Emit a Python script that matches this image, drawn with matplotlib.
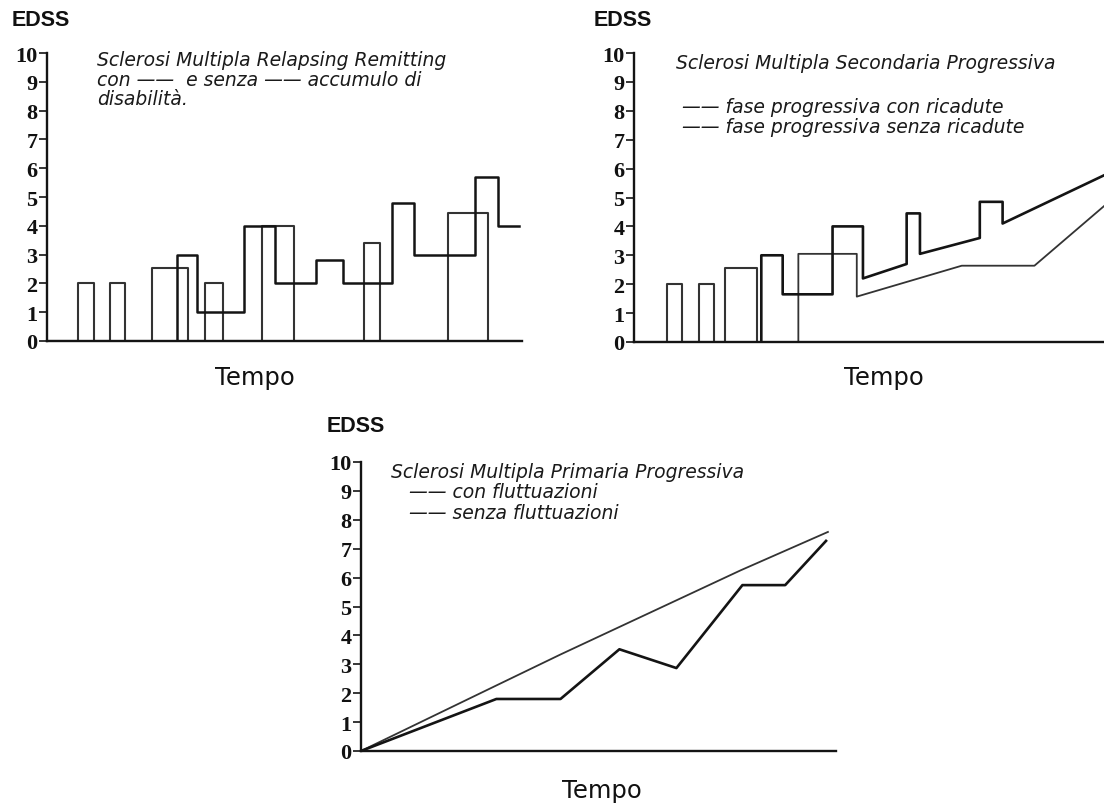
import matplotlib
matplotlib.use("Agg")
import matplotlib.pyplot as plt

W, H = 1104, 804

# ---------------- data ----------------
yticks = list(range(0, 11))
ytick_labels = [str(v) for v in yticks]

# Panel 1: Relapsing Remitting
p1_con_t = [0, 27.3, 31.6, 41.5, 47.9, 56.6, 62.4, 72.7, 77.3, 90.1, 95.0, 99.3]
p1_con_v = [0, 3.0, 1.0, 4.0, 2.0, 2.8, 2.0, 4.8, 3.0, 5.7, 4.0, 4.0]
p1_senza_t = [0, 6.5, 9.9, 13.3, 16.5, 22.0, 29.6, 33.3, 37.0, 45.2, 52.1, 66.8, 70.2, 84.5, 92.9, 99.3]
p1_senza_v = [0, 2.0, 0, 2.0, 0, 2.55, 0, 2.0, 0, 4.0, 0, 3.4, 0, 4.45, 0, 0]

# Panel 2: Secondaria Progressiva
p2_bars_t = [0, 6.9, 10.2, 13.7, 16.9, 19.2, 25.8]
p2_bars_v = [0, 2.0, 0, 2.0, 0, 2.55, 0]
p2_con_t = [26.8, 26.8, 31.3, 31.3, 41.8, 41.8, 48.2, 48.2, 57.4, 57.4, 60.2, 60.2, 72.8, 72.8, 77.6, 77.6, 100]
p2_con_v = [0, 3.0, 3.0, 1.65, 1.65, 4.0, 4.0, 2.2, 2.7, 4.45, 4.45, 3.05, 3.6, 4.85, 4.85, 4.1, 5.85]
p2_senza_t = [34.6, 34.6, 46.9, 46.9, 69.0, 84.3, 100]
p2_senza_v = [0, 3.05, 3.05, 1.57, 2.64, 2.64, 4.85]

# Panel 3: Primaria Progressiva
p3_con_t = [0, 28.5, 42.0, 54.4, 66.4, 80.3, 89.3, 97.9]
p3_con_v = [0, 1.8, 1.8, 3.52, 2.87, 5.74, 5.74, 7.27]
p3_senza_t = [0, 28.9, 42.0, 79.9, 98.3]
p3_senza_v = [0, 2.3, 3.34, 6.25, 7.58]

# ---------------- styling ----------------
DARK = "#141414"
GREY = "#333333"
ITAL = dict(family="DejaVu Sans", style="oblique", color="#1a1a1a")

fig = plt.figure(figsize=(W / 100, H / 100), dpi=100)


def fx(x):
    return x / W


def fy(y):
    return 1 - y / H


def make_axes(left, right, y0, y10):
    ax = fig.add_axes([fx(left), fy(y0), (right - left) / W, (y0 - y10) / H])
    ax.set_xlim(0, 100)
    ax.set_ylim(0, 10)
    for s in ("top", "right"):
        ax.spines[s].set_visible(False)
    for s in ("left", "bottom"):
        ax.spines[s].set_linewidth(1.7)
        ax.spines[s].set_color(DARK)
    ax.set_yticks(yticks)
    ax.set_yticklabels(ytick_labels, fontfamily="Liberation Serif",
                       fontweight="bold", fontsize=16)
    ax.set_xticks([])
    ax.tick_params(axis="y", direction="out", length=6, width=1.2,
                   color=DARK, pad=1, labelcolor="#111111")
    ax.patch.set_alpha(0)
    for sp in ax.spines.values():
        sp.set_clip_on(False)
    return ax


# Panel 1
ax1 = make_axes(47, 522, 342, 54)
ax1.plot(p1_senza_t, p1_senza_v, drawstyle="steps-post", color=GREY, lw=1.5)
ax1.plot(p1_con_t, p1_con_v, drawstyle="steps-post", color=DARK, lw=1.8)

# Panel 2
ax2 = make_axes(634, 1109, 343, 54)
ax2.plot(p2_bars_t, p2_bars_v, drawstyle="steps-post", color=GREY, lw=1.5)
ax2.plot(p2_senza_t, p2_senza_v, color=GREY, lw=1.3)
ax2.plot(p2_con_t, p2_con_v, color=DARK, lw=1.9)

# Panel 3
ax3 = make_axes(361, 836, 752, 463)
ax3.plot(p3_senza_t, p3_senza_v, color=GREY, lw=1.3)
ax3.plot(p3_con_t, p3_con_v, color=DARK, lw=1.9)

# ---------------- texts ----------------
def ftext(x, y, s, **kw):
    fig.text(fx(x), fy(y), s, **kw)


for (x, y) in [(12, 21), (594, 21), (327, 427)]:
    ftext(x, y, "EDSS", fontfamily="Liberation Sans", fontweight="bold",
          fontsize=15.5, va="center", ha="left", color="#111111")

for (x, y) in [(255, 385), (884, 385), (602, 798)]:
    ftext(x, y, "Tempo", fontfamily="DejaVu Sans", fontsize=17.5,
          va="baseline", ha="center", color="#111111")

AFS = 13.5
ftext(97, 66, "Sclerosi Multipla Relapsing Remitting", fontsize=AFS, va="baseline", **ITAL)
ftext(97, 86, "con ——  e senza —— accumulo di", fontsize=AFS, va="baseline", **ITAL)
ftext(97, 105, "disabilità.", fontsize=AFS, va="baseline", **ITAL)

ftext(676, 69, "Sclerosi Multipla Secondaria Progressiva", fontsize=AFS, va="baseline", **ITAL)
ftext(682, 113, "—— fase progressiva con ricadute", fontsize=AFS, va="baseline", **ITAL)
ftext(682, 133, "—— fase progressiva senza ricadute", fontsize=AFS, va="baseline", **ITAL)

ftext(391, 478, "Sclerosi Multipla Primaria Progressiva", fontsize=AFS, va="baseline", **ITAL)
ftext(409, 498, "—— con fluttuazioni", fontsize=AFS, va="baseline", **ITAL)
ftext(409, 519, "—— senza fluttuazioni", fontsize=AFS, va="baseline", **ITAL)

fig.savefig("out.png", dpi=100)
